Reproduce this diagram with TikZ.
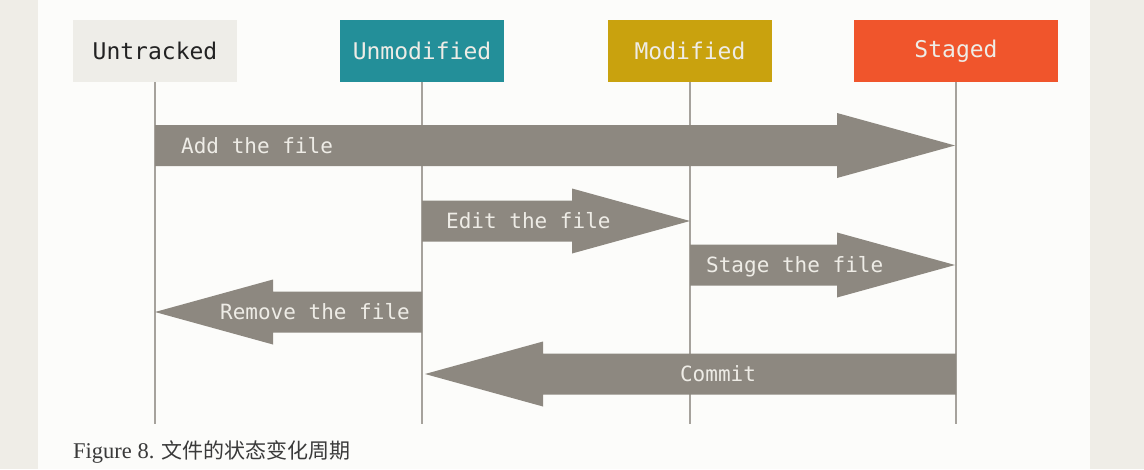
\documentclass[tikz,border=0pt]{standalone}
\usepackage{fontspec}
\setmainfont{Liberation Serif}
\setmonofont{DejaVu Sans Mono}
\newfontfamily\cjk{Noto Sans CJK SC}
\usetikzlibrary{calc,positioning}

\definecolor{Page}{HTML}{EFEDE7}
\definecolor{Paper}{HTML}{FCFCFA}
\definecolor{LGray}{HTML}{EEEDE8}
\definecolor{Teal}{HTML}{238F99}
\definecolor{Mustard}{HTML}{C9A20E}
\definecolor{Orange}{HTML}{F0552C}
\definecolor{Stone}{HTML}{8D8880}
\definecolor{Rule}{HTML}{A6A29C}
\definecolor{Ink}{HTML}{222222}
\definecolor{Chalk}{HTML}{EEECE6}
\definecolor{Caption}{HTML}{3A3A3A}

% fat arrow from #1 to #2, the tip sits on #2
\newcommand{\fatarrow}[2]{%
    \fill[Stone] let \p1=(#1), \p2=(#2), \p3=($(#2)!118pt!(#1)$) in
        (\x1,{\y1+20.5pt}) -- (\x3,{\y1+20.5pt}) -- (\x3,{\y1+32.5pt})
        -- (\x2,\y1)
        -- (\x3,{\y1-32.5pt}) -- (\x3,{\y1-20.5pt}) -- (\x1,{\y1-20.5pt}) -- cycle;
}

\begin{document}
\begin{tikzpicture}[x=1pt, y=-1pt,
    statebox/.style={minimum width=164pt, minimum height=62pt, inner sep=0pt,
        font=\fontsize{23}{27}\selectfont\ttfamily, text=Chalk},
    flowtext/.style={inner sep=0pt, font=\fontsize{21}{25}\selectfont\ttfamily, text=Chalk},
    lifeline/.style={Rule, line width=2pt}]

    \def\Bottom{424}

    \useasboundingbox (0,0) rectangle (1144,469);
    \fill[Page] (0,0) rectangle (1144,469);
    \fill[Paper] (38,0) rectangle (1090,469);

    % States
    \node[statebox, fill=LGray, text=Ink] (untracked) at (155,51) {Untracked};
    \node[statebox, fill=Teal] (unmodified) at (422,51) {Unmodified};
    \node[statebox, fill=Mustard] (modified) at (690,51) {Modified};
    \node[statebox, fill=Orange, minimum width=204pt] (staged) at (956,51) {Staged};

    \foreach \s in {untracked,unmodified,modified,staged} {
        \draw[lifeline] (\s.south) -- (\s.south |- 0,\Bottom);
    }

    % Arrow ends
    \coordinate (add-a) at (untracked.south |- 0,145.5);
    \coordinate (add-b) at ([xshift=-1pt]staged.south |- 0,145.5);
    \coordinate (edit-a) at (unmodified.south |- 0,221);
    \coordinate (edit-b) at (modified.south |- 0,221);
    \coordinate (stage-a) at (modified.south |- 0,265);
    \coordinate (stage-b) at ([xshift=-1pt]staged.south |- 0,265);
    \coordinate (remove-a) at (unmodified.south |- 0,312);
    \coordinate (remove-b) at (untracked.south |- 0,312);
    \coordinate (commit-a) at (staged.south |- 0,374);
    \coordinate (commit-b) at ([xshift=3pt]unmodified.south |- 0,374);

    % Transitions
    \fatarrow{add-a}{add-b}
    \fatarrow{edit-a}{edit-b}
    \fatarrow{stage-a}{stage-b}
    \fatarrow{remove-a}{remove-b}
    \fatarrow{commit-a}{commit-b}

    \node[flowtext, anchor=base west] (addtext) at ($(add-a)+(26,7.5)$) {Add the file};
    \node[flowtext, anchor=base west] (edittext) at ($(edit-a)+(24,7.5)$) {Edit the file};
    \node[flowtext, anchor=base west] (stagetext) at ($(stage-a)+(16,7.5)$) {Stage the file};
    \node[flowtext, anchor=base east] (removetext) at ($(remove-a)+(-12,7.5)$) {Remove the file};
    \node[flowtext, anchor=base] (committext) at (718,381.5) {Commit};

    \node[anchor=base west, inner sep=0pt, text=Caption, font=\fontsize{22.5}{26}\selectfont]
        (caption) at (73,458) {Figure 8. {\cjk\fontsize{21}{25}\selectfont 文件的状态变化周期}};

\end{tikzpicture}
\end{document}
